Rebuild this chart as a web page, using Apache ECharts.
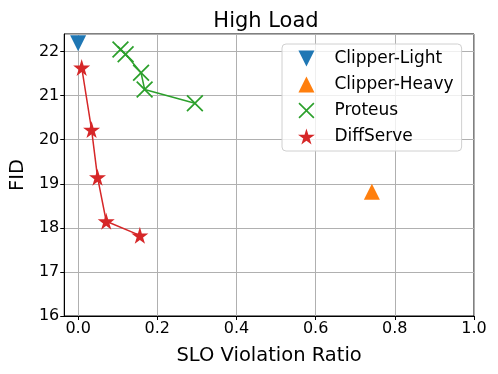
<!DOCTYPE html>
<html>
<head>
<meta charset="utf-8">
<script src="https://cdn.jsdelivr.net/npm/echarts@6/dist/echarts.min.js"></script>
<style>
  html, body { margin: 0; padding: 0; background: #fff; }
  #main { width: 498px; height: 374px; }
</style>
</head>
<body>
<div id="main"></div>
<script>
// values
const clipperLightX = [0.0];
const clipperLightY = [22.19];
const clipperHeavyX = [0.742];
const clipperHeavyY = [18.82];
const proteusX = [0.107, 0.120, 0.159, 0.168, 0.295];
const proteusY = [22.05, 21.94, 21.52, 21.14, 20.83];
const diffServeX = [0.009, 0.034, 0.049, 0.071, 0.156];
const diffServeY = [21.64, 20.23, 19.15, 18.15, 17.83];
const seriesNames = ['Clipper-Light', 'Clipper-Heavy', 'Proteus', 'DiffServe'];

const font = 'DejaVu Sans';
const pairs = (xs, ys) => xs.map((x, i) => [x, ys[i]]);

// marker shapes
const triDown = 'path://M0,0 L10,0 L5,10 Z';
const triUp = 'path://M5,0 L10,10 L0,10 Z';
const cross = 'path://M0,1 L1,0 L7,6 L13,0 L14,1 L8,7 L14,13 L13,14 L7,8 L1,14 L0,13 L6,7 Z';
const star = 'path://M50,0 L61,35 L98,35 L68,57 L79,91 L50,70 L21,91 L32,57 L2,35 L39,35 Z';
const icons = [triDown, triUp, cross, star];

let myChart = echarts.init(document.getElementById('main'));
let option = {
  animation: false,
  backgroundColor: '#fff',
  title: {
    text: 'High Load',
    left: 261,
    top: 6,
    textAlign: 'center',
    textStyle: { fontFamily: font, fontSize: 21, fontWeight: 'normal', color: '#000' }
  },
  legend: {
    orient: 'vertical',
    left: 282,
    top: 44,
    data: seriesNames.map((n, i) => ({ name: n, icon: icons[i] })),
    itemWidth: 46,
    itemHeight: 16,
    itemGap: 9,
    padding: [6, 8, 6, 16],
    backgroundColor: 'rgba(255,255,255,0.8)',
    borderColor: '#d0d0d0',
    borderWidth: 1,
    borderRadius: 4,
    textStyle: { fontFamily: font, fontSize: 17, color: '#000' }
  },
  grid: {
    left: 62, right: 24, top: 34, bottom: 58,
    show: true, borderColor: '#000', borderWidth: 1
  },
  xAxis: {
    type: 'value',
    min: -0.035,
    max: 1.0,
    splitNumber: 5,
    name: 'SLO Violation Ratio',
    nameLocation: 'middle',
    nameGap: 30,
    nameTextStyle: { fontFamily: font, fontSize: 19.5, color: '#000' },
    axisLine: { onZero: false, lineStyle: { color: '#000', width: 1 } },
    axisTick: { show: true, length: 4, lineStyle: { color: '#000' } },
    axisLabel: {
      fontFamily: font, fontSize: 16, color: '#000', margin: 5,
      showMinLabel: false,
      formatter: v => v.toFixed(1)
    },
    splitLine: { show: true, lineStyle: { color: '#b0b0b0', width: 1 } }
  },
  yAxis: {
    type: 'value',
    min: 16,
    max: 22.4,
    interval: 1,
    name: 'FID',
    nameLocation: 'middle',
    nameGap: 35,
    nameTextStyle: { fontFamily: font, fontSize: 19.5, color: '#000' },
    axisLine: { show: true, onZero: false, lineStyle: { color: '#000', width: 1 } },
    axisTick: { show: true, length: 4, lineStyle: { color: '#000' } },
    axisLabel: { fontFamily: font, fontSize: 16, color: '#000', margin: 5, showMaxLabel: false },
    splitLine: { show: true, lineStyle: { color: '#b0b0b0', width: 1 } }
  },
  series: [
    {
      name: 'Clipper-Light',
      type: 'scatter',
      data: pairs(clipperLightX, clipperLightY),
      symbol: triDown,
      symbolSize: 16,
      itemStyle: { color: '#1f77b4', opacity: 1 },
      z: 5
    },
    {
      name: 'Clipper-Heavy',
      type: 'scatter',
      data: pairs(clipperHeavyX, clipperHeavyY),
      symbol: triUp,
      symbolSize: 16,
      itemStyle: { color: '#ff7f0e', opacity: 1 },
      z: 5
    },
    {
      name: 'Proteus',
      type: 'line',
      data: pairs(proteusX, proteusY),
      symbol: cross,
      symbolSize: 17,
      showAllSymbol: true,
      itemStyle: { color: '#2ca02c' },
      lineStyle: { color: '#2ca02c', width: 1.5 },
      z: 4
    },
    {
      name: 'DiffServe',
      type: 'line',
      data: pairs(diffServeX, diffServeY),
      symbol: star,
      symbolSize: 17,
      showAllSymbol: true,
      itemStyle: { color: '#d62728' },
      lineStyle: { color: '#d62728', width: 1.5 },
      z: 4
    }
  ]
};
myChart.setOption(option);
</script>
</body>
</html>
